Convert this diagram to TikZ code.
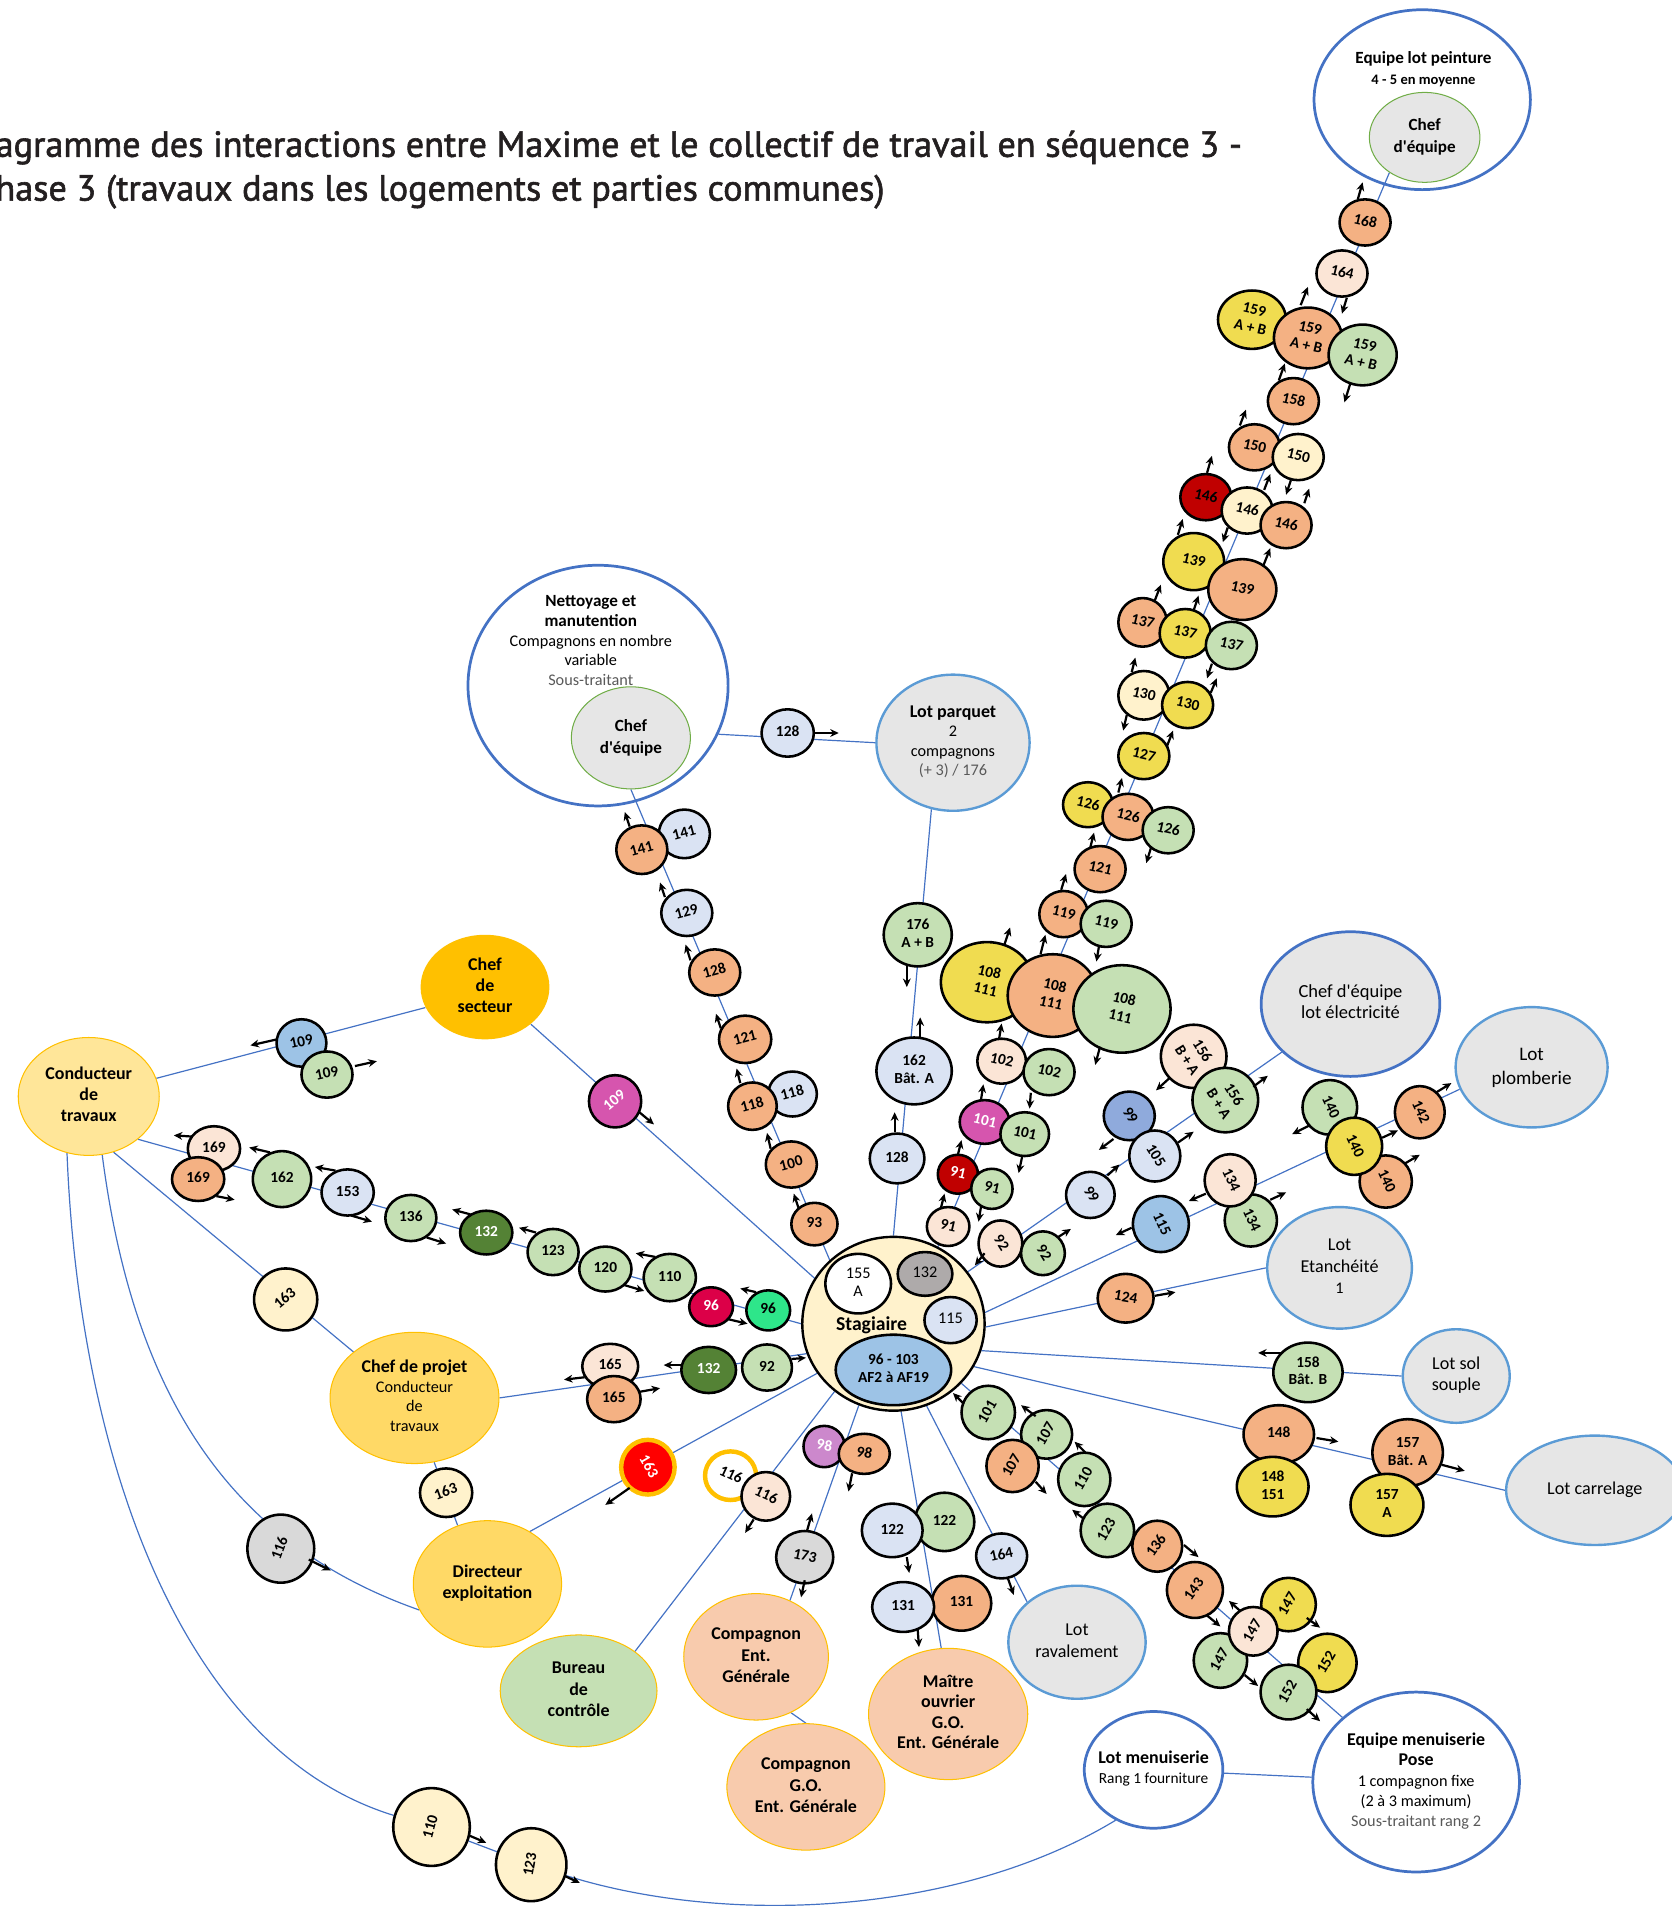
\documentclass[tikz,border=0pt]{standalone}
\usepackage{fontspec}
\setmainfont{Carlito}
\newfontfamily\titlefont[FakeBold=1.6]{PT Sans}
\usepackage{graphicx}
\usetikzlibrary{shapes.geometric,arrows.meta}
\pgfdeclarelayer{bg}
\pgfsetlayers{bg,main}
\definecolor{cOr}{HTML}{F4B183}
\definecolor{cPe}{HTML}{FBE5D6}
\definecolor{cCr}{HTML}{FFF2CC}
\definecolor{cGr}{HTML}{C5E0B4}
\definecolor{cLb}{HTML}{DAE3F3}
\definecolor{cBl}{HTML}{9DC3E6}
\definecolor{cDb}{HTML}{8FAADC}
\definecolor{cYe}{HTML}{F0DC50}
\definecolor{cDg}{HTML}{548235}
\definecolor{cRd}{HTML}{C00000}
\definecolor{cCm}{HTML}{DC0048}
\definecolor{cSg}{HTML}{2EE68A}
\definecolor{cPk}{HTML}{D655AE}
\definecolor{cPu}{HTML}{CC88CC}
\definecolor{cGy}{HTML}{D9D9D9}
\definecolor{cGyy}{HTML}{AEAAAA}
\definecolor{cSec}{HTML}{FFC000}
\definecolor{cCond}{HTML}{FFE699}
\definecolor{cCp}{HTML}{FFD966}
\definecolor{cCmp}{HTML}{F8CBAD}
\definecolor{cLot}{HTML}{E6E6E6}
\definecolor{cLnk}{HTML}{4472C4}
\definecolor{cLbb}{HTML}{5B9BD5}
\definecolor{cChefG}{HTML}{70AD47}
\definecolor{cTitle}{HTML}{231F20}
\definecolor{cSub}{HTML}{595959}
\definecolor{cRed}{HTML}{FF0000}
\newcommand\bt[2]{\makebox[0pt]{\smash{\raisebox{\dimexpr(\depth-\height)/2\relax}{\rotatebox[origin=c]{#1}{\begin{tabular}{@{}c@{}}#2\end{tabular}}}}}}
\newcommand\zb[1]{\makebox[0pt]{\smash{\raisebox{\dimexpr(\depth-\height)/2\relax}{\begin{tabular}{@{}c@{}}#1\end{tabular}}}}}
\newcommand\rg[1]{{\mdseries\fontsize{9.5}{11.4}\selectfont #1}}
\newcommand\rgs[1]{{\mdseries\fontsize{9}{11}\selectfont #1}}
\newcommand\apo{\textquotesingle}
\tikzset{
  bub/.style={ellipse, draw=black, line width=1.5pt, inner sep=0pt, font=\fontsize{9}{10.5}\selectfont\bfseries},
  sz/.style 2 args={minimum width=#1*0.025cm, minimum height=#2*0.025cm},
  big/.style={ellipse, inner sep=0pt, font=\fontsize{10.5}{12.4}\selectfont\bfseries},
  lotb/.style={ellipse, inner sep=0pt, fill=cLot, draw=cLbb, line width=1.4pt, font=\fontsize{10.6}{12.4}\selectfont},
  gold/.style={draw=cSec, line width=0.6pt},
  chef/.style={ellipse, inner sep=0pt, fill=cLot, draw=cChefG, line width=0.6pt, font=\fontsize{10}{12.8}\selectfont\bfseries},
  lk/.style={draw=cLnk, line width=0.7pt},
  arr/.style={-{Stealth[length=5pt,width=4.6pt]}, line width=1.3pt, black},
}
\newcommand\Bub[8]{\node[bub, sz={#4}{#5}, fill=#6] (#1) at (#2,#3) {\bt{#7}{#8}};}
\newcommand\Arw[5]{\draw[arr] (#1.center) ++(#2,#3) -- ++(#4,#5);}
\begin{document}
\begin{tikzpicture}[x=0.025cm,y=-0.025cm]
\useasboundingbox (0,0) rectangle (1375,1568);
% title
\node[anchor=base east, inner sep=0pt, font=\titlefont\fontsize{21.2}{25}\selectfont, text=cTitle] (title1) at (1022,129) {Diagramme des interactions entre Maxime et le collectif de travail en séquence 3 -};
\node[anchor=base east, inner sep=0pt, font=\titlefont\fontsize{21.2}{25}\selectfont, text=cTitle] (title2) at (728,165) {Phase 3 (travaux dans les logements et parties communes)};
% big containers
\node[ellipse, draw=cLnk, line width=1.6pt, sz={178}{148}] (peint) at (1170,82) {};
\node[align=center, font=\fontsize{10}{12}\selectfont\bfseries] (tpeint) at (1171,57) {Equipe lot peinture\\{\fontsize{8.5}{12}\selectfont 4 - 5 en moyenne}};
\node[chef, sz={91}{74}] (chpeint) at (1172,113) {\zb{Chef\\d\apo équipe}};
\node[ellipse, draw=cLnk, line width=1.6pt, sz={214}{198}] (net) at (492,564) {};
\node[align=center, font=\fontsize{10}{11.6}\selectfont\bfseries] (tnet) at (486,527) {Nettoyage et\\manutention\\\rg{Compagnons en nombre}\\\rg{variable}\\\rg{\textcolor{cSub}{Sous-traitant}}};
\node[chef, sz={98}{84}] (chnet) at (519,607) {\zb{Chef\\d\apo équipe}};
\node[lotb, sz={126}{112}, font=\fontsize{10.5}{11.4}\selectfont\bfseries] (parq) at (784,611) {\zb{Lot parquet\\\rg{2}\\\rg{compagnons}\\\rg{\textcolor{cSub}{(+ 3) / 176}}}};
\node[big, fill=cSec, sz={106}{86}] (sect) at (399,812) {\zb{Chef\\de\\secteur}};
\node[big, fill=cCond, gold, sz={116}{97}] (cond) at (73,902) {\zb{Conducteur\\de\\travaux}};
\node[big, fill=cCp, gold, sz={139}{108}, font=\fontsize{10.5}{11.4}\selectfont\bfseries] (cp) at (341,1150) {\zb{Chef de projet\\\rg{Conducteur}\\\rg{de}\\\rg{travaux}}};
\node[big, fill=cCp, gold, sz={122}{104}] (dir) at (401,1303) {\zb{Directeur\\exploitation}};
\node[big, fill=cGr, gold, sz={129}{92}] (bur) at (476,1391) {\zb{Bureau\\de\\contrôle}};
\node[big, fill=cCmp, gold, sz={119}{104}] (ceg) at (622,1363) {\zb{Compagnon\\Ent.\\Générale}};
\node[big, fill=cCmp, gold, sz={130}{104}] (cgo) at (663,1470) {\zb{Compagnon\\G.O.\\Ent. Générale}};
\node[big, fill=cCmp, gold, sz={131}{108}, font=\fontsize{10.5}{12}\selectfont\bfseries] (mo) at (780,1410) {\zb{Maître\\ouvrier\\G.O.\\Ent. Générale}};
\node[lotb, sz={113}{93}] (raval) at (886,1351) {\zb{Lot\\ravalement}};
\node[big, fill=white, draw=cLnk, line width=1.6pt, sz={114}{96}, font=\fontsize{10.5}{11.6}\selectfont\bfseries] (lotmen) at (949,1456) {\zb{Lot menuiserie\\\rgs{Rang 1 fourniture}}};
\node[big, fill=white, draw=cLnk, line width=1.6pt, sz={170}{148}, font=\fontsize{10.5}{11.9}\selectfont\bfseries] (pose) at (1165,1466) {\zb{Equipe menuiserie\\Pose\\\rg{1 compagnon fixe}\\\rg{(2 à 3 maximum)}\\\rg{\textcolor{cSub}{Sous-traitant rang 2}}}};
\node[lotb, sz={146}{90}] (carr) at (1312,1226) {\zb{Lot carrelage}};
\node[lotb, sz={88}{77}] (solsp) at (1198,1132) {\zb{Lot sol\\souple}};
\node[lotb, sz={119}{100}] (etan) at (1102,1043) {\zb{Lot\\Etanchéité\\\rg{1}}};
\node[lotb, sz={125}{99}, font=\fontsize{11.2}{14}\selectfont] (plomb) at (1260,878) {\zb{Lot\\plomberie}};
\node[lotb, draw=cLnk, line width=1.6pt, sz={147}{119}, font=\fontsize{10.8}{12.4}\selectfont] (elec) at (1111,826) {\zb{Chef d\apo équipe\\lot électricité}};
% Stagiaire
\node[ellipse, draw=black, line width=1.4pt, fill=cCr, inner sep=0pt, sz={150}{143}] (stag) at (735,1089) {};
\node[font=\fontsize{11.5}{13}\selectfont\bfseries] (stagtxt) at (717,1090) {Stagiaire};
\node[bub, sz={54}{49}, fill=white, font=\fontsize{9.5}{11}\selectfont] (i155) at (706,1056) {\bt{0}{155\\A}};
\node[bub, sz={45}{36}, fill=cGyy, font=\fontsize{9.5}{11}\selectfont] (i132) at (761,1048) {\bt{0}{132}};
\node[bub, sz={43}{38}, fill=cLb, font=\fontsize{9.5}{11}\selectfont] (i115) at (782,1086) {\bt{0}{115}};
\node[bub, sz={95}{58}, fill=cBl] (i96) at (735,1127) {\bt{0}{96 - 103\\AF2 à AF19}};
% peinture chain
\Bub{p168}{1123}{183}{42}{38}{cOr}{-13}{168}
\Bub{p164}{1104}{225}{42}{38}{cPe}{-13}{164}
\Bub{p159y}{1030}{263}{56}{48}{cYe}{-13}{159\\A + B}
\Bub{p159o}{1076}{278}{56}{50}{cOr}{-13}{159\\A + B}
\Bub{p159g}{1121}{292}{56}{50}{cGr}{-13}{159\\A + B}
\Bub{p158}{1064}{330}{42}{38}{cOr}{-13}{158}
\Bub{p150o}{1032}{368}{42}{38}{cOr}{-13}{150}
\Bub{p150l}{1068}{376}{42}{38}{cCr}{-13}{150}
\Bub{p146r}{992}{409}{42}{38}{cRd}{-13}{146}
\Bub{p146l}{1026}{420}{42}{38}{cCr}{-13}{146}
\Bub{p146o}{1058}{432}{42}{38}{cOr}{-13}{146}
\Bub{p139y}{982}{462}{50}{47}{cYe}{-13}{139}
\Bub{p139o}{1022}{485}{56}{50}{cOr}{-13}{139}
\Bub{p137o}{940}{512}{40}{40}{cOr}{-13}{137}
\Bub{p137y}{975}{521}{42}{40}{cYe}{-13}{137}
\Bub{p137g}{1013}{531}{42}{39}{cGr}{-13}{137}
\Bub{p130l}{941}{572}{42}{40}{cCr}{-13}{130}
\Bub{p130y}{977}{580}{42}{38}{cYe}{-13}{130}
\Bub{p127}{941}{622}{42}{38}{cYe}{-13}{127}
\Bub{p126y}{895}{662}{41}{37}{cYe}{-13}{126}
\Bub{p126o}{928}{672}{42}{38}{cOr}{-13}{126}
\Bub{p126g}{961}{683}{42}{38}{cGr}{-13}{126}
\Bub{p121}{905}{715}{42}{38}{cOr}{-13}{121}
\Bub{p119o}{875}{752}{40}{38}{cOr}{-13}{119}
\Bub{p119g}{910}{760}{42}{38}{cGr}{-13}{119}
\Bub{p108y}{812}{808}{76}{66}{cYe}{-13}{108\\111}
\Bub{p108o}{866}{819}{74}{68}{cOr}{-13}{108\\111}
\Bub{p108g}{923}{830}{80}{72}{cGr}{-13}{108\\111}
\Bub{p102l}{824}{873}{40}{37}{cPe}{-13}{102}
\Bub{p102g}{863}{882}{42}{38}{cGr}{-13}{102}
\Bub{p101p}{810}{923}{41}{36}{cPk,text=white}{-13}{101}
\Bub{p101g}{843}{933}{40}{36}{cGr}{-13}{101}
\Bub{p91r}{788}{966}{33}{32}{cRd,text=white}{-13}{91}
\Bub{p91g}{816}{978}{34}{33}{cGr}{-13}{91}
\Bub{p91l}{780}{1009}{35}{32}{cPe}{-13}{91}
% nettoyage chain
\Bub{n141l}{563}{686}{42}{40}{cLb}{15}{141}
\Bub{n141o}{528}{699}{42}{40}{cOr}{15}{141}
\Bub{n129}{565}{751}{42}{38}{cLb}{15}{129}
\Bub{n128}{588}{800}{42}{38}{cOr}{15}{128}
\Bub{n121}{613}{855}{43}{39}{cOr}{15}{121}
\Bub{n118l}{652}{900}{40}{37}{cLb}{15}{118}
\Bub{n118o}{619}{910}{40}{39}{cOr}{15}{118}
\Bub{n100}{651}{958}{42}{38}{cOr}{15}{100}
\Bub{n93}{670}{1007}{38}{35}{cOr}{0}{93}
% parquet
\Bub{w128}{648}{603}{43}{39}{cLb}{0}{128}
\Bub{q176}{755}{769}{56}{52}{cGr}{0}{176\\A + B}
\Bub{q162}{752}{881}{62}{55}{cLb}{0}{162\\Bât. A}
\Bub{q128}{738}{953}{45}{41}{cLb}{0}{128}
% electricite
\Bub{e156l}{982}{869}{54}{52}{cPe}{-58}{156\\B + A}
\Bub{e156g}{1008}{905}{54}{53}{cGr}{-58}{156\\B + A}
\Bub{e99b}{929}{918}{42}{40}{cDb}{-58}{99}
\Bub{e105}{950}{951}{42}{42}{cLb}{-58}{105}
\Bub{e99l}{897}{983}{40}{38}{cLb}{-58}{99}
\Bub{e92l}{823}{1023}{36}{38}{cPe}{-58}{92}
\Bub{e92g}{858}{1031}{36}{36}{cGr}{-58}{92}
% plomberie
\Bub{l142}{1168}{915}{41}{43}{cOr}{-65}{142}
\Bub{l140g}{1094}{911}{45}{45}{cGr}{-65}{140}
\Bub{l140o}{1140}{972}{43}{43}{cOr}{-65}{140}
\Bub{l140y}{1114}{943}{46}{47}{cYe}{-65}{140}
\Bub{l134g}{1029}{1004}{43}{43}{cGr}{-65}{134}
\Bub{l134l}{1012}{971}{42}{43}{cPe}{-65}{134}
\Bub{l115}{955}{1007}{46}{46}{cBl}{-65}{115}
\Bub{t124}{926}{1068}{46}{40}{cOr}{-10}{124}
\Bub{s158}{1076}{1129}{57}{49}{cGr}{0}{158\\Bât. B}
\Bub{c148o}{1052}{1180}{58}{48}{cOr}{0}{148}
\Bub{c148y}{1047}{1223}{59}{49}{cYe}{0}{148\\151}
\Bub{c157o}{1158}{1195}{58}{55}{cOr}{0}{157\\Bât. A}
\Bub{c157y}{1141}{1238}{60}{51}{cYe}{0}{157\\A}
% pose chain
\Bub{r101}{813}{1162}{44}{44}{cGr}{60}{101}
\Bub{r107g}{861}{1180}{42}{40}{cGr}{60}{107}
\Bub{r107o}{833}{1206}{43}{43}{cOr}{60}{107}
\Bub{r110}{892}{1217}{43}{44}{cGr}{60}{110}
\Bub{r123}{911}{1259}{44}{44}{cGr}{60}{123}
\Bub{r136}{952}{1272}{41}{42}{cOr}{55}{136}
\Bub{r143}{983}{1308}{46}{46}{cOr}{55}{143}
\Bub{r147y}{1060}{1320}{45}{44}{cYe}{60}{147}
\Bub{r147g}{1004}{1366}{44}{45}{cGr}{60}{147}
\Bub{r147l}{1031}{1342}{40}{40}{cPe}{60}{147}
\Bub{r152y}{1092}{1368}{48}{48}{cYe}{60}{152}
\Bub{r152g}{1060}{1392}{46}{45}{cGr}{60}{152}
% lower fan
\Bub{v164}{824}{1280}{42}{37}{cLb}{12}{164}
\Bub{m122g}{777}{1252}{49}{48}{cGr}{0}{122}
\Bub{m122l}{734}{1259}{50}{44}{cLb}{0}{122}
\Bub{m131o}{791}{1319}{49}{45}{cOr}{0}{131}
\Bub{m131l}{743}{1322}{51}{41}{cLb}{0}{131}
\Bub{g98p}{678}{1190}{34}{34}{cPu,text=white}{-10}{98}
\Bub{g98o}{711}{1196}{42}{33}{cOr}{-10}{98}
\Bub{g173}{662}{1281}{47}{43}{cGy}{-12}{173}
\node[bub, sz={42}{40}, fill=white, draw=cSec, line width=2.6pt] (u116r) at (601,1214) {\bt{-25}{116}};
\Bub{u116l}{630}{1231}{40}{40}{cPe}{-25}{116}
\node[bub, sz={44}{45}, fill=cRed, draw=cSec, line width=2.6pt, text=white] (d163) at (533,1207) {\bt{-60}{163}};
% chef de projet chain
\Bub{k165l}{502}{1124}{46}{37}{cPe}{0}{165}
\Bub{k165o}{505}{1151}{44}{38}{cOr}{0}{165}
\Bub{k132}{583}{1127}{45}{38}{cDg,text=white}{0}{132}
\Bub{k92}{631}{1125}{41}{38}{cGr}{0}{92}
% conducteur chain
\Bub{a169l}{176}{945}{43}{37}{cPe}{0}{169}
\Bub{a169o}{163}{970}{43}{36}{cOr}{0}{169}
\Bub{a162}{232}{970}{48}{46}{cGr}{0}{162}
\Bub{a153}{286}{981}{43}{38}{cLb}{0}{153}
\Bub{a136}{338}{1002}{42}{38}{cGr}{0}{136}
\Bub{a132}{400}{1014}{43}{36}{cDg,text=white}{0}{132}
\Bub{a123}{455}{1030}{42}{38}{cGr}{0}{123}
\Bub{a120}{498}{1044}{43}{37}{cGr}{0}{120}
\Bub{a110}{551}{1051}{43}{39}{cGr}{0}{110}
\Bub{a96r}{585}{1075}{36}{32}{cCm,text=white}{0}{96}
\Bub{a96g}{632}{1078}{36}{33}{cSg}{0}{96}
\Bub{x109b}{248}{858}{41}{39}{cBl}{12}{109}
\Bub{x109g}{269}{884}{42}{38}{cGr}{12}{109}
\Bub{x109p}{506}{906}{43}{43}{cPk,text=white}{40}{109}
\Bub{y163}{235}{1069}{52}{51}{cCr}{40}{163}
\Bub{y163b}{367}{1228}{43}{40}{cCr}{20}{163}
\Bub{y116}{231}{1274}{55}{56}{cGy}{70}{116}
\Bub{y110}{355}{1503}{63}{64}{cCr}{75}{110}
\Bub{y123}{437}{1534}{58}{60}{cCr}{80}{123}
% connectors
\begin{pgfonlayer}{bg}
\draw[lk] (chpeint.225) -- (stag.60);
\draw[lk] (chnet.south) -- (stag.135);
\draw[lk] (net.338) -- (parq.west);
\draw[lk] (parq.252) -- (stag.90);
\draw[lk] (elec) -- (stag);
\draw[lk] (plomb.197) -- (stag.7);
\draw[lk] (etan.west) -- (stag.358);
\draw[lk] (solsp.west) -- (stag.343);
\draw[lk] (carr.west) -- (stag.332);
\draw[lk] (stag) -- (pose);
\draw[lk] (stag.292) -- (raval.141);
\draw[lk] (stag.275) -- (mo.96);
\draw[lk] (stag.247) -- (ceg.59);
\draw[lk] (ceg.302) -- (cgo.90);
\draw[lk] (stag.229) -- (bur.35);
\draw[lk] (dir.51) -- (stag.213);
\draw[lk] (cp.east) -- (stag.199);
\draw[lk] (cond.319) -- (stag.180);
\draw[lk] (cond.15) -- (sect.199);
\draw[lk] (sect.321) -- (stag.150);
\draw[lk] (cond.294) -- (cp.143);
\draw[lk] (cp.287) -- (dir.117);
\draw[lk] (cond.283) .. controls (110,1150) and (190,1270) .. (dir.201);
\draw[lk] (cond.249) .. controls (65,1200) and (150,1440) .. (y110);
\draw[lk] (y110) -- (y123);
\draw[lk] (y123) .. controls (600,1585) and (790,1575) .. (lotmen.233);
\draw[lk] (lotmen) -- (pose);
\end{pgfonlayer}
% arrows
\Arw{p168}{-6}{-19}{4}{-14}
\Arw{p164}{4}{20}{-4}{13}
\Arw{p159o}{-6}{-27}{6}{-15}
\Arw{p159g}{-10}{23}{-5}{16}
\Arw{p158}{-12}{-17}{5}{-14}
\Arw{p150o}{-12}{-18}{5}{-13}
\Arw{p150l}{-6}{19}{-4}{12}
\Arw{p146r}{1}{-20}{4}{-14}
\Arw{p146l}{14}{-17}{5}{-13}
\Arw{p146l}{-16}{14}{-4}{12}
\Arw{p146o}{15}{-18}{4}{-12}
\Arw{p139y}{-13}{-22}{4}{-13}
\Arw{p139o}{17}{-19}{6}{-15}
\Arw{p137o}{10}{-18}{5}{-13}
\Arw{p137y}{7}{-19}{4}{-12}
\Arw{p137g}{-16}{15}{-4}{12}
\Arw{p130l}{-10}{-19}{3}{-12}
\Arw{p130l}{-14}{16}{-3}{13}
\Arw{p130y}{19}{-10}{5}{-12}
\Arw{p127}{19}{-8}{5}{-13}
\Arw{p126o}{-8}{-20}{3}{-12}
\Arw{p126g}{-14}{14}{-4}{13}
\Arw{p121}{-8}{-18}{3}{-12}
\Arw{p119o}{-2}{-20}{4}{-13}
\Arw{p119g}{-6}{19}{-2}{12}
\Arw{p108y}{14}{-30}{5}{-15}
\Arw{p108o}{-10}{-34}{4}{-16}
\Arw{p108g}{-18}{31}{-4}{15}
\Arw{p102l}{-2}{-19}{2}{-12}
\Arw{p102g}{-15}{17}{-1}{13}
\Arw{p101p}{-3}{-18}{2}{-13}
\Arw{p101g}{-2}{18}{-3}{14}
\Arw{p91r}{0}{-16}{3}{-12}
\Arw{p91g}{-9}{15}{-2}{12}
\Arw{p91l}{-6}{-15}{3}{-12}
\Arw{n141o}{-10}{-19}{-4}{-12}
\Arw{n129}{-18}{-13}{-4}{-12}
\Arw{n128}{-20}{-10}{-4}{-13}
\Arw{n121}{-20}{-9}{-4}{-12}
\Arw{n118o}{-10}{-19}{-3}{-12}
\Arw{n100}{-17}{-13}{-3}{-13}
\Arw{n93}{-13}{-13}{-4}{-12}
\Arw{w128}{22}{0}{20}{0}
\Arw{q176}{-9}{25}{0}{18}
\Arw{q162}{5}{-28}{0}{-16}
\Arw{q128}{-2}{-22}{0}{-16}
\Arw{e156l}{-20}{18}{-11}{10}
\Arw{e156g}{23}{-11}{12}{-9}
\Arw{e99b}{-13}{19}{-12}{9}
\Arw{e105}{19}{-11}{13}{-9}
\Arw{e99l}{14}{-16}{10}{-9}
\Arw{e92l}{-13}{8}{-8}{10}
\Arw{e92g}{12}{-13}{11}{-7}
\Arw{l142}{13}{-16}{13}{-8}
\Arw{l140g}{-17}{15}{-14}{7}
\Arw{l140o}{16}{-15}{12}{-7}
\Arw{l140y}{23}{-7}{13}{-6}
\Arw{l134g}{16}{-17}{13}{-6}
\Arw{l134l}{-20}{11}{-14}{6}
\Arw{l115}{-24}{3}{-13}{6}
\Arw{t124}{24}{-2}{17}{-3}
\Arw{s158}{-22}{-16}{-19}{0}
\Arw{c148o}{31}{3}{18}{3}
\Arw{c157o}{28}{10}{19}{5}
\Arw{r101}{-20}{-7}{-9}{-9}
\Arw{r107g}{-9}{-15}{-12}{-9}
\Arw{r107o}{19}{13}{9}{10}
\Arw{r110}{1}{-22}{-9}{-9}
\Arw{r123}{-20}{-10}{-9}{-7}
\Arw{r136}{22}{-1}{12}{10}
\Arw{r143}{10}{21}{11}{9}
\Arw{r147y}{15}{11}{11}{8}
\Arw{r147g}{20}{12}{11}{9}
\Arw{r147l}{-11}{-17}{-9}{-8}
\Arw{r152g}{15}{14}{11}{10}
\Arw{v164}{5}{18}{5}{14}
\Arw{m122l}{12}{22}{2}{13}
\Arw{m131l}{12}{19}{1}{14}
\Arw{g98o}{-10}{16}{-3}{15}
\Arw{g173}{2}{-22}{4}{-14}
\Arw{g173}{0}{19}{-3}{14}
\Arw{u116l}{-10}{19}{-7}{11}
\Arw{d163}{-15}{17}{-20}{14}
\Arw{k165l}{-21}{9}{-17}{2}
\Arw{k165o}{21}{-6}{17}{-3}
\Arw{k132}{-22}{-4}{-15}{0}
\Arw{k92}{20}{-7}{12}{-1}
\Arw{a169l}{-18}{-10}{-15}{-1}
\Arw{a169o}{15}{14}{15}{3}
\Arw{a162}{-10}{-22}{-17}{-4}
\Arw{a153}{-10}{-18}{-17}{-3}
\Arw{a153}{3}{19}{17}{5}
\Arw{a136}{13}{16}{16}{5}
\Arw{a132}{-13}{-15}{-15}{-4}
\Arw{a123}{-14}{-16}{-14}{-4}
\Arw{a120}{15}{13}{17}{5}
\Arw{a110}{-12}{-17}{-16}{-3}
\Arw{a96r}{13}{10}{17}{4}
\Arw{a96g}{-10}{-15}{-13}{-3}
\Arw{x109b}{-20}{-3}{-22}{5}
\Arw{x109g}{23}{-7}{18}{-4}
\Arw{x109p}{20}{9}{12}{10}
\Arw{y116}{23}{9}{18}{9}
\Arw{y110}{31}{7}{14}{6}
\Arw{y123}{27}{9}{13}{6}
\end{tikzpicture}
\end{document}
